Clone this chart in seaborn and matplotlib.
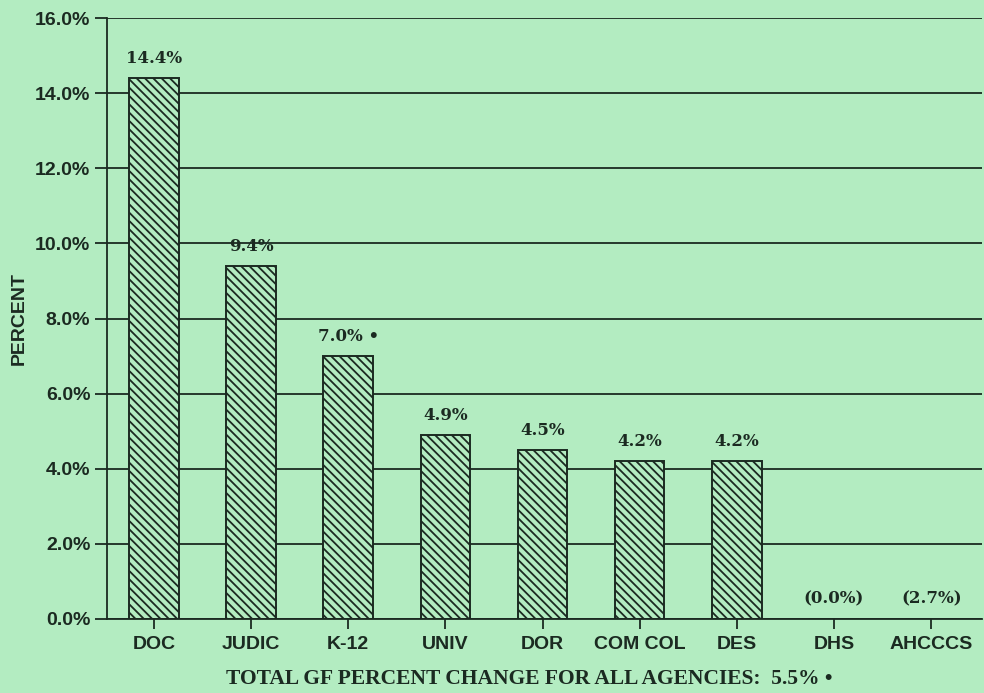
import matplotlib
matplotlib.use("Agg")
import matplotlib.pyplot as plt
import seaborn as sns
import pandas as pd

# данные с графика
agencies = ["DOC", "JUDIC", "K-12", "UNIV", "DOR", "COM COL", "DES", "DHS", "AHCCCS"]
pct_change = [14.4, 9.4, 7.0, 4.9, 4.5, 4.2, 4.2, 0.0, -2.7]
pct_labels = ["14.4%", "9.4%", "7.0% \u2022", "4.9%", "4.5%", "4.2%", "4.2%", "(0.0%)", "(2.7%)"]
y_ticks = [0, 2, 4, 6, 8, 10, 12, 14, 16]
total_change = "5.5%"

bg = "#b3ecc1"
ink = "#1b2a21"

sns.set_theme(style="white")
plt.rcParams["font.family"] = ["Liberation Sans", "DejaVu Sans"]
plt.rcParams["hatch.linewidth"] = 1.3

fig = plt.figure(figsize=(9.84, 6.93), dpi=100, facecolor=bg)
ax = fig.add_axes([0.1087, 0.1068, 0.889, 0.867])
ax.set_facecolor(bg)

df = pd.DataFrame({"agency": agencies, "pct": pct_change})
sns.barplot(data=df, x="agency", y="pct", ax=ax, color=bg, saturation=1,
            edgecolor=ink, linewidth=1.4, width=0.51, hatch="\\\\\\\\")

ax.set_ylim(0, 16)
ax.set_xlim(-0.483, 8.52)
ax.set_yticks(y_ticks)
ax.set_yticklabels([f"{t:.1f}%" for t in y_ticks])
ax.yaxis.grid(True, color=ink, linewidth=1.3)
ax.set_axisbelow(True)

for s in ["top", "right"]:
    ax.spines[s].set_visible(False)
for s in ["left", "bottom"]:
    ax.spines[s].set_color(ink)
    ax.spines[s].set_linewidth(1.3)

ax.tick_params(axis="y", direction="out", length=8.5, width=1.3, color=ink,
               labelsize=14, labelcolor=ink, pad=3.5, left=True)
ax.tick_params(axis="x", direction="out", length=7, width=1.3, color=ink,
               labelsize=14, labelcolor=ink, pad=5, bottom=True)
for lab in ax.get_xticklabels() + ax.get_yticklabels():
    lab.set_fontweight("bold")

ax.set_xlabel("")
ax.set_ylabel("")
fig.text(0.0198, 0.541, "PERCENT", rotation=90, ha="center", va="center",
         fontsize=14, fontweight="bold", color=ink)

# подписи над столбиками
for i, (v, lab) in enumerate(zip(pct_change, pct_labels)):
    ax.annotate(lab, (i, max(v, 0)), xytext=(0, 11), textcoords="offset points",
                ha="center", va="baseline", fontsize=12, fontweight="bold",
                family=["DejaVu Serif"], color=ink,
                annotation_clip=False)

fig.text(0.538, 0.013, f"TOTAL GF PERCENT CHANGE FOR ALL AGENCIES:  {total_change} \u2022",
         ha="center", va="baseline", fontsize=15.5, fontweight="bold",
         family=["Liberation Serif", "DejaVu Serif"], color=ink)

fig.savefig("out.png", dpi=100, facecolor=bg)
